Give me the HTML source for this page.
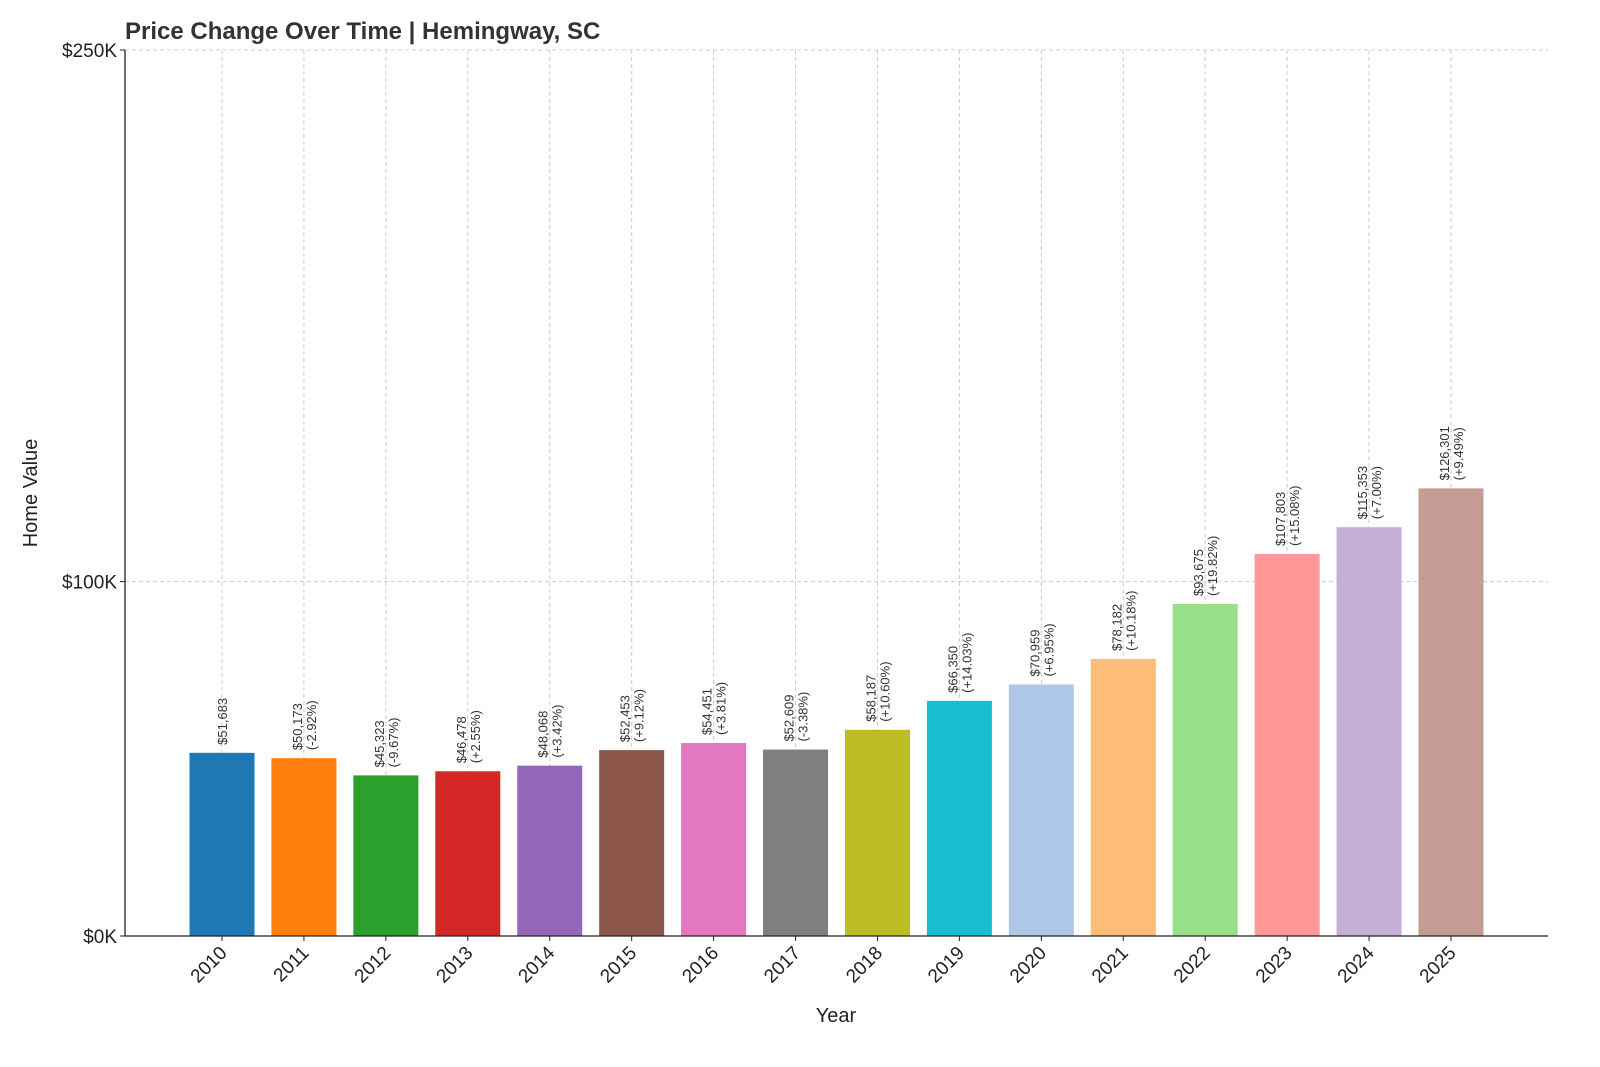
<!DOCTYPE html>
<html><head><meta charset="utf-8"><style>
body{margin:0;background:#fff;}
svg{display:block;font-family:"Liberation Sans","DejaVu Sans",sans-serif;}
</style></head><body>
<svg id="chart" width="1600" height="1067" viewBox="0 0 1600 1067">
<rect width="1600" height="1067" fill="#fff"/>
<text x="125" y="39" font-size="24" font-weight="bold" fill="#333">Price Change Over Time | Hemingway, SC</text>
<g id="grid"></g>
<g id="bars"></g>
<g id="labels"></g>
<g id="axes"></g>
<text transform="translate(37,493) rotate(-90)" text-anchor="middle" font-size="20" fill="#222">Home Value</text>
<text x="836" y="1022" text-anchor="middle" font-size="20" fill="#222">Year</text>
</svg>
<script>
const years = ["2010","2011","2012","2013","2014","2015","2016","2017","2018","2019","2020","2021","2022","2023","2024","2025"];
const values = [51683,50173,45323,46478,48068,52453,54451,52609,58187,66350,70959,78182,93675,107803,115353,126301];
const changes = ["","-2.92%","-9.67%","+2.55%","+3.42%","+9.12%","+3.81%","-3.38%","+10.60%","+14.03%","+6.95%","+10.18%","+19.82%","+15.08%","+7.00%","+9.49%"];
const colors = ["#1f77b4","#ff7f0e","#2ca02c","#d62728","#9467bd","#8c564b","#e377c2","#7f7f7f","#bcbd22","#17becf","#aec7e8","#ffbb78","#98df8a","#ff9896","#c5b0d5","#c49c94"];
const yTicks = [0,100000,250000];
const yTickLabels = ["$0K","$100K","$250K"];
const NS="http://www.w3.org/2000/svg";
const L=125,R=1548,T=50,B=936,yMax=250000;
const y=v=>B-v/yMax*(B-T);
const x=i=>222+i*((1451-222)/15);
const bw=65;
function mk(tag,attrs,parent,txt){const e=document.createElementNS(NS,tag);for(const k in attrs)e.setAttribute(k,attrs[k]);if(txt!==undefined)e.textContent=txt;parent.appendChild(e);return e;}
const grid=document.getElementById('grid'),bars=document.getElementById('bars'),labels=document.getElementById('labels'),axes=document.getElementById('axes');
yTicks.forEach((t,i)=>{
  const gl=mk('line',{x1:L,x2:R,y1:y(t),y2:y(t),stroke:'#ccc','stroke-dasharray':'4,3','stroke-width':1},grid);
  
  
  const tl=mk('text',{x:L-8,y:y(t)+7,'text-anchor':'end','font-size':19,fill:'#222'},axes,yTickLabels[i]);
  
  
  mk('line',{x1:L-5,x2:L,y1:y(t),y2:y(t),stroke:'#222'},axes);
});
years.forEach((yr,i)=>{
  const cx=x(i);
  const gl=mk('line',{x1:cx,x2:cx,y1:T,y2:B,stroke:'#ccc','stroke-dasharray':'4,3','stroke-width':1},grid);
  
  
  const r=mk('rect',{x:cx-bw/2,y:y(values[i]),width:bw,height:B-y(values[i]),fill:colors[i]},bars);
  
  
  const top=y(values[i])-8;
  const v='$'+values[i].toLocaleString('en-US');
  if(changes[i]){
    const t1=mk('text',{transform:`translate(${cx-2},${top}) rotate(-90)`,'font-size':13,fill:'#333'},labels,v);
    
    
    const t2=mk('text',{transform:`translate(${cx+12},${top}) rotate(-90)`,'font-size':13,fill:'#333'},labels,'('+changes[i]+')');
    
    
  } else {
    const t1=mk('text',{transform:`translate(${cx+5},${top}) rotate(-90)`,'font-size':13,fill:'#333'},labels,v);
    
    
  }
  mk('line',{x1:cx,x2:cx,y1:B,y2:B+5,stroke:'#222'},axes);
  const xl=mk('text',{transform:`translate(${cx+6},${B+18}) rotate(-45)`,'text-anchor':'end','font-size':19,fill:'#222'},axes,yr);
  
  
});
const ax=mk('line',{x1:L,x2:L,y1:T,y2:B,stroke:'#222','stroke-width':1.3},axes);


const bx=mk('line',{x1:L,x2:R,y1:B,y2:B,stroke:'#222','stroke-width':1.3},axes);


</script>
</body></html>
